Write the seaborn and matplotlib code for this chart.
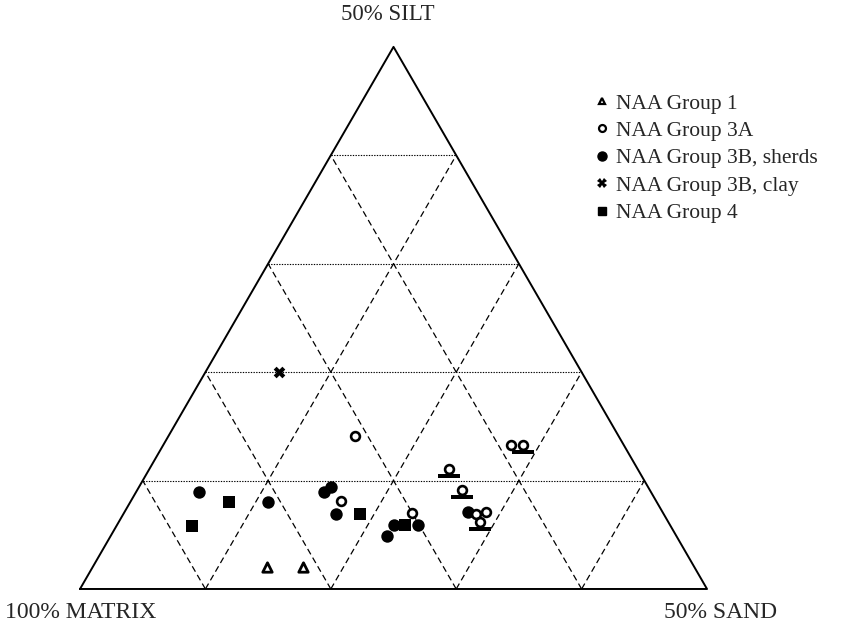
import numpy as np
import pandas as pd
import seaborn as sns
import matplotlib.pyplot as plt
from matplotlib.path import Path
from matplotlib.lines import Line2D

# ternary data: silt % and sand % (apex = 50%), matrix is the rest
g1_silt = [2.0, 2.0]
g1_sand = [13.9, 16.8]

g3a_silt = [14.1, 8.1, 7.0, 6.9, 7.1, 13.3]
g3a_sand = [14.9, 16.8, 23.0, 28.1, 28.8, 27.7]

# group 3A samples shown with an underline bar
g3a_bar_silt = [11.1, 9.1, 13.3, 6.2]
g3a_bar_sand = [23.9, 25.9, 28.7, 28.8]

g3b_silt = [8.9, 8.0, 8.9, 9.4, 6.9, 5.9, 4.9, 5.9, 7.1]
g3b_sand = [5.0, 11.0, 15.0, 15.3, 17.0, 22.1, 22.0, 24.0, 27.4]

clay_silt = [20.0]
clay_sand = [5.9]

g4_silt = [8.0, 5.8, 6.9, 5.9]
g4_sand = [7.9, 6.0, 18.9, 23.0]

legend_labels = ["NAA Group 1", "NAA Group 3A", "NAA Group 3B, sherds",
                 "NAA Group 3B, clay", "NAA Group 4"]

H = np.sqrt(3) / 2


def to_xy(silt, sand):
    c = np.asarray(silt) / 50.0
    b = np.asarray(sand) / 50.0
    return b + c / 2, c * H


def frame(silt, sand):
    x, y = to_xy(silt, sand)
    return pd.DataFrame({"x": x, "y": y})


sns.set_style("white")
plt.rcParams["font.family"] = ["Liberation Serif", "DejaVu Serif"]

fig = plt.figure(figsize=(8.55, 6.36), dpi=100)
ax = fig.add_axes([0, 0, 1, 1])
ax.set_xlim(-0.1276, 1.2360)
ax.set_ylim(-0.0751, 0.9409)
ax.axis("off")

# outline
ax.plot([0, 1, 0.5, 0], [0, 0, H, 0], color="black", lw=1.4, zorder=2)

# grid
for k in range(1, 5):
    f = k / 5
    # constant silt (horizontal, dotted)
    ax.plot([f / 2, 1 - f / 2], [f * H, f * H], color="black", lw=0.8,
            ls=(0, (1.2, 1.2)), zorder=1)
    # constant sand (parallel to left side)
    ax.plot([f, f + (1 - f) / 2], [0, (1 - f) * H], color="black", lw=0.9,
            ls=(0, (5, 3)), zorder=1)
    # constant matrix (parallel to right side)
    ax.plot([1 - f, (1 - f) / 2], [0, (1 - f) * H], color="black", lw=0.9,
            ls=(0, (5, 3)), zorder=1)

# bar marker used under some 3A circles
bar_marker = Path([(-2, -0.95), (2, -0.95), (2, -1.75), (-2, -1.75), (-2, -0.95)],
                  [Path.MOVETO, Path.LINETO, Path.LINETO, Path.LINETO, Path.CLOSEPOLY])

sns.scatterplot(data=frame(g1_silt, g1_sand), x="x", y="y", ax=ax, marker="^",
                s=46, facecolor="white", edgecolor="black", linewidth=2.0, zorder=3)
sns.scatterplot(data=frame(g3a_bar_silt, g3a_bar_sand), x="x", y="y", ax=ax,
                marker=bar_marker, s=230, color="black", linewidth=0, zorder=3)
sns.scatterplot(data=frame(g3a_silt + g3a_bar_silt, g3a_sand + g3a_bar_sand), x="x", y="y",
                ax=ax, marker="o", s=40, facecolor="white", edgecolor="black",
                linewidth=1.9, zorder=4)
sns.scatterplot(data=frame(g3b_silt, g3b_sand), x="x", y="y", ax=ax, marker="o",
                s=80, color="black", linewidth=0, zorder=3)
sns.scatterplot(data=frame(clay_silt, clay_sand), x="x", y="y", ax=ax, marker="X",
                s=70, color="black", linewidth=0, zorder=3)
sns.scatterplot(data=frame(g4_silt, g4_sand), x="x", y="y", ax=ax, marker="s",
                s=70, color="black", linewidth=0, zorder=3)

handles = [
    Line2D([], [], ls="", marker="^", ms=5, mfc="white", mec="black", mew=1.6),
    Line2D([], [], ls="", marker="o", ms=5, mfc="white", mec="black", mew=1.6),
    Line2D([], [], ls="", marker="o", ms=6.5, mfc="black", mec="black"),
    Line2D([], [], ls="", marker="X", ms=6.5, mfc="black", mec="black", mew=0),
    Line2D([], [], ls="", marker="s", ms=6, mfc="black", mec="black"),
]
fig.legend(handles, legend_labels, loc="upper left", bbox_to_anchor=(0.699, 0.853),
           frameon=False, fontsize=15.5, handlelength=0.45, handletextpad=0.4,
           borderpad=0, borderaxespad=0, labelspacing=0.34)

fig.text(388 / 855, 1 - 14 / 636, "50% SILT", ha="center", va="center", fontsize=16.5)
fig.text(5 / 855, 1 - 612 / 636, "100% MATRIX", ha="left", va="center", fontsize=17)
fig.text(664 / 855, 1 - 612 / 636, "50% SAND", ha="left", va="center", fontsize=17)

fig.savefig("out.png", dpi=100)
